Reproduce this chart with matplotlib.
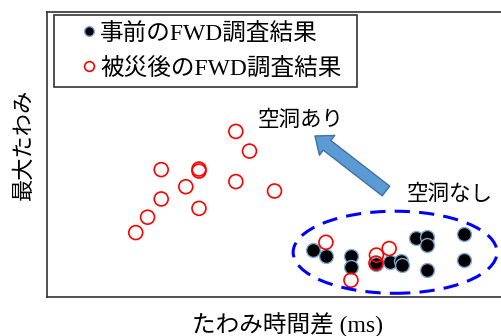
import matplotlib
matplotlib.use("Agg")
import matplotlib.pyplot as plt
from matplotlib.patches import Ellipse, FancyArrowPatch
from matplotlib.lines import Line2D

# Data (arbitrary units)
after_x = [19.5, 22.1, 25.1, 25.1, 30.5, 33.4, 33.4, 33.4, 41.5, 44.5, 41.5, 50.0,
           61.3, 72.4, 75.2, 66.8, 72.3]
after_y = [22.6, 28.0, 34.4, 44.7, 38.7, 31.1, 44.9, 44.2, 58.1, 51.2, 40.5, 37.2,
           19.2, 14.7, 17.0, 5.9, 11.9]
before_x = [58.4, 61.4, 66.8, 66.8, 72.3, 75.3, 77.8, 78.0, 81.0, 83.5, 83.5, 83.5, 91.7, 91.7]
before_y = [16.5, 14.4, 14.5, 10.5, 11.6, 12.3, 12.8, 11.2, 20.7, 21.1, 18.1, 9.5, 22.0, 12.9]

label_before = "事前のFWD調査結果"
label_after = "被災後のFWD調査結果"
xlabel = "たわみ時間差 (ms)"
ylabel = "最大たわみ"
txt_void = "空洞あり"
txt_novoid = "空洞なし"

mixed = ['Liberation Serif', 'Noto Sans CJK JP']
sans = ['Noto Sans CJK JP', 'DejaVu Sans']

fig = plt.figure(figsize=(5.02, 3.36), dpi=100)
ax = fig.add_axes([47/502, 39/336, 1 - 47/502, 285/336])
ax.set_xlim(0, 100)
ax.set_ylim(0, 100)
ax.set_xticks([])
ax.set_yticks([])
ax.spines['right'].set_visible(False)
for s in ['left', 'top', 'bottom']:
    ax.spines[s].set_color('#333333')
    ax.spines[s].set_linewidth(1.2)

ax.scatter(before_x, before_y, s=100, c='black', edgecolors='#7FA7D3', linewidths=1.0, zorder=3)
ax.scatter(after_x, after_y, s=100, facecolors='none', edgecolors='#FF0000', linewidths=1.2, zorder=4)

ell = Ellipse((76.5, 15.7), 44.8, 28.8, fill=False, edgecolor='#0000FF',
              linewidth=2.2, linestyle=(0, (5, 3)), zorder=5)
ax.add_patch(ell)

arrow = FancyArrowPatch((74.5, 37.2), (58.9, 56.5), shrinkA=0, shrinkB=0,
                        arrowstyle='simple,head_length=1.1,head_width=1.8,tail_width=0.88',
                        mutation_scale=10, facecolor='#5B9BD5', edgecolor='#41719C',
                        linewidth=1.0, zorder=5)
ax.add_patch(arrow)

ax.text(55.8, 62.0, txt_void, fontsize=15.5, family=sans, ha='center', va='center')
ax.text(88.4, 36.0, txt_novoid, fontsize=15.5, family=sans, ha='center', va='center')

handles = [Line2D([], [], marker='o', linestyle='none', markersize=7, markerfacecolor='black',
                  markeredgecolor='#7FA7D3', label=label_before),
           Line2D([], [], marker='o', linestyle='none', markersize=7, markerfacecolor='none',
                  markeredgecolor='#FF0000', markeredgewidth=1.2, label=label_after)]
leg = ax.legend(handles=handles, loc='upper left', mode='expand',
                bbox_to_anchor=(7/455, 212/285, 303/455, 70/285),
                borderaxespad=0, fancybox=False, framealpha=1, edgecolor='#333333',
                prop={'family': mixed, 'size': 17}, handlelength=2.3, handletextpad=-0.66,
                labelspacing=0.53, borderpad=0.32)
leg.get_frame().set_linewidth(1.2)

ax.set_xlabel(xlabel, family=mixed, fontsize=17)
ax.set_ylabel(ylabel, family=sans, fontsize=16)
ax.xaxis.set_label_coords(0.529, -0.055)
ax.yaxis.set_label_coords(-0.026, 0.535)

fig.savefig('out.png', dpi=100)
